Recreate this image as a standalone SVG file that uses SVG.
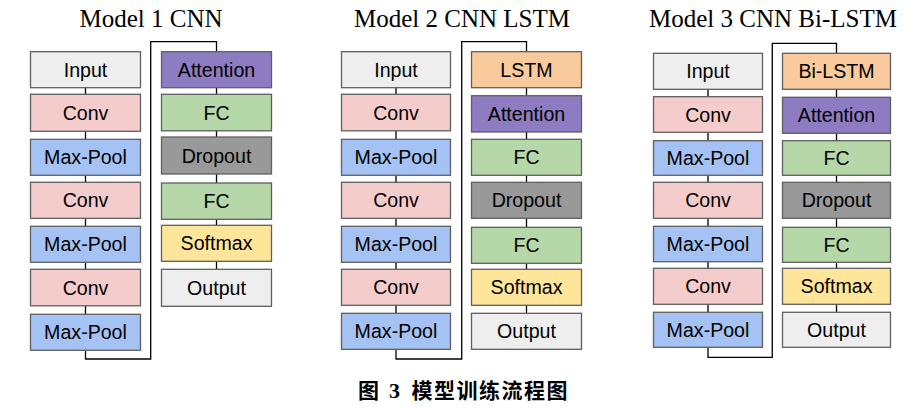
<svg xmlns="http://www.w3.org/2000/svg" width="924" height="411" viewBox="0 0 924 411">
<style>
rect{stroke:#5f5f5f;stroke-width:1.3}
.in{fill:#eeeeee}.cv{fill:#f4cccc}.mp{fill:#a4c2f4}.at{fill:#8e7cc3}.fc{fill:#b6d7a8}.dr{fill:#999999}.sm{fill:#ffe599}.ls{fill:#f9cb9c}
.t{font-family:"Liberation Sans",Arial,sans-serif;font-size:19.6px;text-anchor:middle;fill:#000}
.h{font-family:"Liberation Serif","Times New Roman",serif;font-size:25px;text-anchor:middle;fill:#000}
.c{fill:none;stroke:#000;stroke-width:1.3}
.cap{font-family:"Noto Sans CJK SC",sans-serif;font-size:21px;font-weight:bold;fill:#000}
</style>
<rect width="924" height="411" fill="#fff" style="stroke:none"/>
<g id="titles">
<text class="h" x="151" y="27.3">Model 1 CNN</text>
<text class="h" x="462" y="27.3">Model 2 CNN LSTM</text>
<text class="h" x="773" y="27.3">Model 3 CNN Bi-LSTM</text>
</g>
<g id="connectors">
<path class="c" d="M85.5 87.3V94.3M85.5 131.3V139.3M85.5 175.3V182.3M85.5 218.3V226.3M85.5 262.3V269.3M85.5 305.3V314.3"/>
<path class="c" d="M85.5 350.3V359H150.7V41.7H216.5V51.7"/>
<path class="c" d="M216.5 87.7V94.3M216.5 130.3V137M216.5 173V183M216.5 219V225.3M216.5 261.3V269.3"/>
<path class="c" d="M396 87.7V94.3M396 130.3V139.3M396 175.3V182.3M396 218.3V226.3M396 262.3V269.3M396 305.3V313.3"/>
<path class="c" d="M396 349.3V359H461.7V41.7H526.5V51.7"/>
<path class="c" d="M526.5 87.7V95.7M526.5 131.7V139.3M526.5 175.3V182.3M526.5 218.3V227.3M526.5 263.3V269.3M526.5 305.3V313.3"/>
<path class="c" d="M708 89.3V96.7M708 132.3V140.7M708 175.3V182.3M708 218.3V226.3M708 261.7V268.3M708 304.3V312.3"/>
<path class="c" d="M708 347.3V357.3H772.3V43.3H836.5V53.3"/>
<path class="c" d="M836.5 89.3V97.3M836.5 133.3V140.7M836.5 175.3V182.3M836.5 218.3V227.3M836.5 262.3V268.3M836.5 304.3V312.3"/>
</g>
<g id="m1-input"><rect class="in" x="30.5" y="51.7" width="110" height="36"/><text class="t" x="85.5" y="76.7">Input</text></g>
<g id="m1-conv1"><rect class="cv" x="30.5" y="94.3" width="110" height="37"/><text class="t" x="85.5" y="119.8">Conv</text></g>
<g id="m1-pool1"><rect class="mp" x="30.5" y="139.3" width="110" height="36"/><text class="t" x="85.5" y="164.3">Max-Pool</text></g>
<g id="m1-conv2"><rect class="cv" x="30.5" y="182.3" width="110" height="36"/><text class="t" x="85.5" y="207.3">Conv</text></g>
<g id="m1-pool2"><rect class="mp" x="30.5" y="226.3" width="110" height="36"/><text class="t" x="85.5" y="251.3">Max-Pool</text></g>
<g id="m1-conv3"><rect class="cv" x="30.5" y="269.3" width="110" height="36.5"/><text class="t" x="85.5" y="294.5">Conv</text></g>
<g id="m1-pool3"><rect class="mp" x="30.5" y="314.3" width="110" height="36"/><text class="t" x="85.5" y="339.3">Max-Pool</text></g>
<g id="m1-attention"><rect class="at" x="161.5" y="51.7" width="110" height="36"/><text class="t" x="216.5" y="76.7">Attention</text></g>
<g id="m1-fc1"><rect class="fc" x="161.5" y="94.3" width="110" height="36.5"/><text class="t" x="216.5" y="119.5">FC</text></g>
<g id="m1-dropout"><rect class="dr" x="161.5" y="137" width="110" height="37"/><text class="t" x="216.5" y="162.5">Dropout</text></g>
<g id="m1-fc2"><rect class="fc" x="161.5" y="183" width="110" height="36.3"/><text class="t" x="216.5" y="208.2">FC</text></g>
<g id="m1-softmax"><rect class="sm" x="161.5" y="225.3" width="110" height="36"/><text class="t" x="216.5" y="250.3">Softmax</text></g>
<g id="m1-output"><rect class="in" x="161.5" y="269.3" width="110" height="37"/><text class="t" x="216.5" y="294.8">Output</text></g>

<g id="m2-input"><rect class="in" x="341.5" y="51.7" width="109" height="36"/><text class="t" x="396" y="76.7">Input</text></g>
<g id="m2-conv1"><rect class="cv" x="341.5" y="94.3" width="109" height="36.5"/><text class="t" x="396" y="119.5">Conv</text></g>
<g id="m2-pool1"><rect class="mp" x="341.5" y="139.3" width="109" height="36"/><text class="t" x="396" y="164.3">Max-Pool</text></g>
<g id="m2-conv2"><rect class="cv" x="341.5" y="182.3" width="109" height="36"/><text class="t" x="396" y="207.3">Conv</text></g>
<g id="m2-pool2"><rect class="mp" x="341.5" y="226.3" width="109" height="36"/><text class="t" x="396" y="251.3">Max-Pool</text></g>
<g id="m2-conv3"><rect class="cv" x="341.5" y="269.3" width="109" height="36"/><text class="t" x="396" y="294.3">Conv</text></g>
<g id="m2-pool3"><rect class="mp" x="341.5" y="313.3" width="109" height="36"/><text class="t" x="396" y="338.3">Max-Pool</text></g>
<g id="m2-lstm"><rect class="ls" x="471.5" y="51.7" width="110" height="36"/><text class="t" x="526.5" y="76.7">LSTM</text></g>
<g id="m2-attention"><rect class="at" x="471.5" y="95.7" width="110" height="36.3"/><text class="t" x="526.5" y="120.8">Attention</text></g>
<g id="m2-fc1"><rect class="fc" x="471.5" y="139.3" width="110" height="36"/><text class="t" x="526.5" y="164.3">FC</text></g>
<g id="m2-dropout"><rect class="dr" x="471.5" y="182.3" width="110" height="36"/><text class="t" x="526.5" y="207.3">Dropout</text></g>
<g id="m2-fc2"><rect class="fc" x="471.5" y="227.3" width="110" height="36"/><text class="t" x="526.5" y="252.3">FC</text></g>
<g id="m2-softmax"><rect class="sm" x="471.5" y="269.3" width="110" height="36"/><text class="t" x="526.5" y="294.3">Softmax</text></g>
<g id="m2-output"><rect class="in" x="471.5" y="313.3" width="110" height="36"/><text class="t" x="526.5" y="338.3">Output</text></g>

<g id="m3-input"><rect class="in" x="653.5" y="53.3" width="109" height="36"/><text class="t" x="708" y="78.3">Input</text></g>
<g id="m3-conv1"><rect class="cv" x="653.5" y="96.7" width="109" height="35.6"/><text class="t" x="708" y="121.5">Conv</text></g>
<g id="m3-pool1"><rect class="mp" x="653.5" y="140.7" width="109" height="34.6"/><text class="t" x="708" y="165">Max-Pool</text></g>
<g id="m3-conv2"><rect class="cv" x="653.5" y="182.3" width="109" height="36"/><text class="t" x="708" y="207.3">Conv</text></g>
<g id="m3-pool2"><rect class="mp" x="653.5" y="226.3" width="109" height="35.4"/><text class="t" x="708" y="251">Max-Pool</text></g>
<g id="m3-conv3"><rect class="cv" x="653.5" y="268.3" width="109" height="36"/><text class="t" x="708" y="293.3">Conv</text></g>
<g id="m3-pool3"><rect class="mp" x="653.5" y="312.3" width="109" height="35"/><text class="t" x="708" y="336.8">Max-Pool</text></g>
<g id="m3-bilstm"><rect class="ls" x="782.5" y="53.3" width="108" height="36"/><text class="t" x="836.5" y="78.3">Bi-LSTM</text></g>
<g id="m3-attention"><rect class="at" x="782.5" y="97.3" width="108" height="36"/><text class="t" x="836.5" y="122.3">Attention</text></g>
<g id="m3-fc1"><rect class="fc" x="782.5" y="140.7" width="108" height="34.6"/><text class="t" x="836.5" y="165">FC</text></g>
<g id="m3-dropout"><rect class="dr" x="782.5" y="182.3" width="108" height="36"/><text class="t" x="836.5" y="207.3">Dropout</text></g>
<g id="m3-fc2"><rect class="fc" x="782.5" y="227.3" width="108" height="35"/><text class="t" x="836.5" y="251.8">FC</text></g>
<g id="m3-softmax"><rect class="sm" x="782.5" y="268.3" width="108" height="36"/><text class="t" x="836.5" y="293.3">Softmax</text></g>
<g id="m3-output"><rect class="in" x="782.5" y="312.3" width="108" height="35"/><text class="t" x="836.5" y="336.8">Output</text></g>

<g id="caption">
<text class="cap" x="358" y="398">图</text>
<text class="cap" x="389" y="398" style="font-family:'Liberation Serif',serif;font-size:22px">3</text>
<text class="cap" x="411.5" y="398" textLength="156" lengthAdjust="spacing">模型训练流程图</text>
</g>
</svg>
